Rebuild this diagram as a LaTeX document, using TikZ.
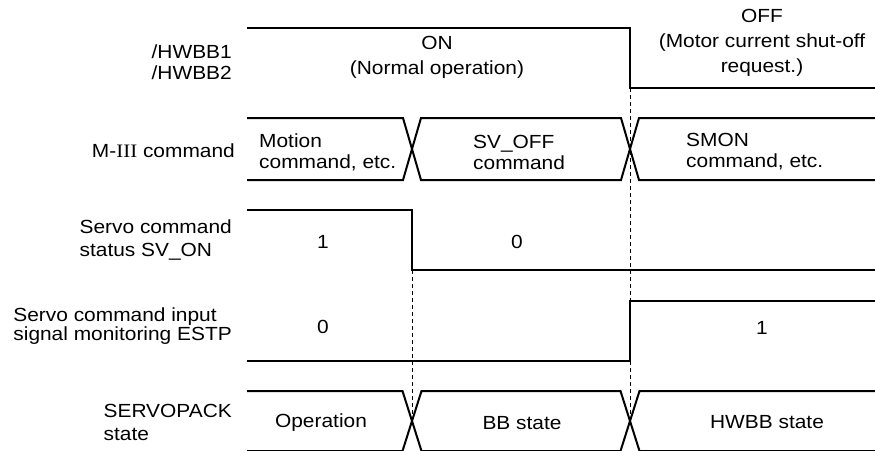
\documentclass[tikz,border=0pt]{standalone}
\usepackage{fontspec}
\setmainfont{Liberation Sans}[FakeStretch=1.1]
\newfontfamily\romfont{Liberation Serif}[FakeStretch=1.1]
\usepackage{xcolor}
\usepackage{tikz}
\newcommand\tdfont[1][21]{\fontsize{19}{#1}\selectfont}

\begin{document}
\begin{tikzpicture}[x=1pt,y=-1pt,
  sig/.style={line width=2pt},
  guide/.style={line width=1pt,dash pattern=on 4pt off 3pt},
  lbl/.style={font=\tdfont,align=left,anchor=east,inner sep=0pt},
  val/.style={font=\tdfont,align=center,inner sep=0pt}]
\useasboundingbox (0,0) rectangle (875,450);
% row labels
\node[lbl] (lhwbb) at (232,62) {/HWBB1\\/HWBB2};
\node[lbl] (lcmd) at (235,151) {M-{\romfont III} command};
\node[lbl, font={\tdfont[23]}] (lsvon) at (232,240) {Servo command\\status SV\_ON};
\node[lbl, font={\tdfont[18.5]}] (lestp) at (232,326) {Servo command input\\signal monitoring ESTP};
\node[lbl, font={\tdfont[23]}] (lpack) at (232,422) {SERVOPACK\\state};
% /HWBB
\draw[sig] (247,28) -- (630,28) -- (630,88) -- (876,88);
\node[val, font={\tdfont[25]}] (hwon) at (437,57) {ON\\(Normal operation)};
\node[val, font={\tdfont[25]}] (hwoff) at (762,43) {OFF\\(Motor current shut-off\\request.)};
% bus rows: M-III command and SERVOPACK state
\foreach \tp/\bt/\hw in {118/180/9, 391/451/9.5}{
  \draw[sig] (247,\tp) -- (412-\hw,\tp) -- (412+\hw,\bt) -- (630-\hw,\bt) -- (630+\hw,\tp) -- (876,\tp);
  \draw[sig] (247,\bt) -- (412-\hw,\bt) -- (412+\hw,\tp) -- (630-\hw,\tp) -- (630+\hw,\bt) -- (876,\bt);}
\node[val, align=left, anchor=west] (cmdmot) at (259,152) {Motion\\command, etc.};
\node[val, align=left, anchor=west] (cmdoff) at (473,152) {SV\_OFF\\command};
\node[val, align=left, anchor=west] (cmdsmon) at (686,152) {SMON\\command, etc.};
\node[val] (stop) at (321,423) {Operation};
\node[val] (stbb) at (522,423) {BB state};
\node[val] (sthw) at (767,422) {HWBB state};
% SV_ON
\draw[sig] (247,210) -- (412,210) -- (412,270) -- (876,270);
\node[val] (svon1) at (323,242) {1};
\node[val] (svon0) at (517,242) {0};
% ESTP
\draw[sig] (247,361) -- (630,361) -- (630,301) -- (876,301);
\node[val] (estp0) at (323,327) {0};
\node[val] (estp1) at (762,328) {1};
% timing guides
\draw[guide] (412,270) -- (412,420);
\draw[guide] (630,88) -- (630,421);
\end{tikzpicture}
\end{document}
